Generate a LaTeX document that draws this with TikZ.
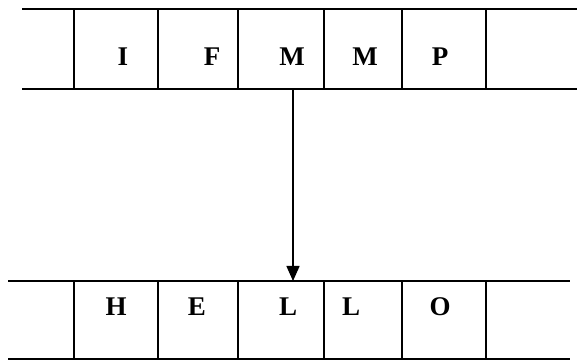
\documentclass[tikz,border=0pt]{standalone}
\usepackage{fontspec}
\setmainfont{Liberation Serif}
\usetikzlibrary{arrows.meta}

\begin{document}
\begin{tikzpicture}[x=1pt, y=1pt, line width=1.5pt,
  letter/.style={font=\fontsize{27}{27}\selectfont\bfseries, inner sep=0pt}]
  \useasboundingbox (0,0) rectangle (577,361);
  % upper tape
  \draw (22,352) -- (577,352);
  \draw (22,272) -- (577,272);
  \foreach \x in {74,158,238,324,402,486}
    \draw (\x,352) -- (\x,272);
  \node[letter] (i)  at (123,304) {I};
  \node[letter] (f)  at (212,304) {F};
  \node[letter] (m1) at (292,304) {M};
  \node[letter] (m2) at (365,304) {M};
  \node[letter] (p)  at (440,304) {P};
  % lower tape
  \draw (8,80) -- (570,80);
  \draw (8,2) -- (570,2);
  \foreach \x in {74,158,238,324,402,486}
    \draw (\x,80) -- (\x,2);
  \node[letter] (h)  at (116,54) {H};
  \node[letter] (e)  at (197,54) {E};
  \node[letter] (l1) at (288,54) {L};
  \node[letter] (l2) at (351,54) {L};
  \node[letter] (o)  at (440,54) {O};
  % head
  \coordinate (src) at (293,272);
  \coordinate (dst) at (293,80);
  \draw[-{Triangle[width=13pt,length=15pt]}] (src) -- (dst);
\end{tikzpicture}
\end{document}
